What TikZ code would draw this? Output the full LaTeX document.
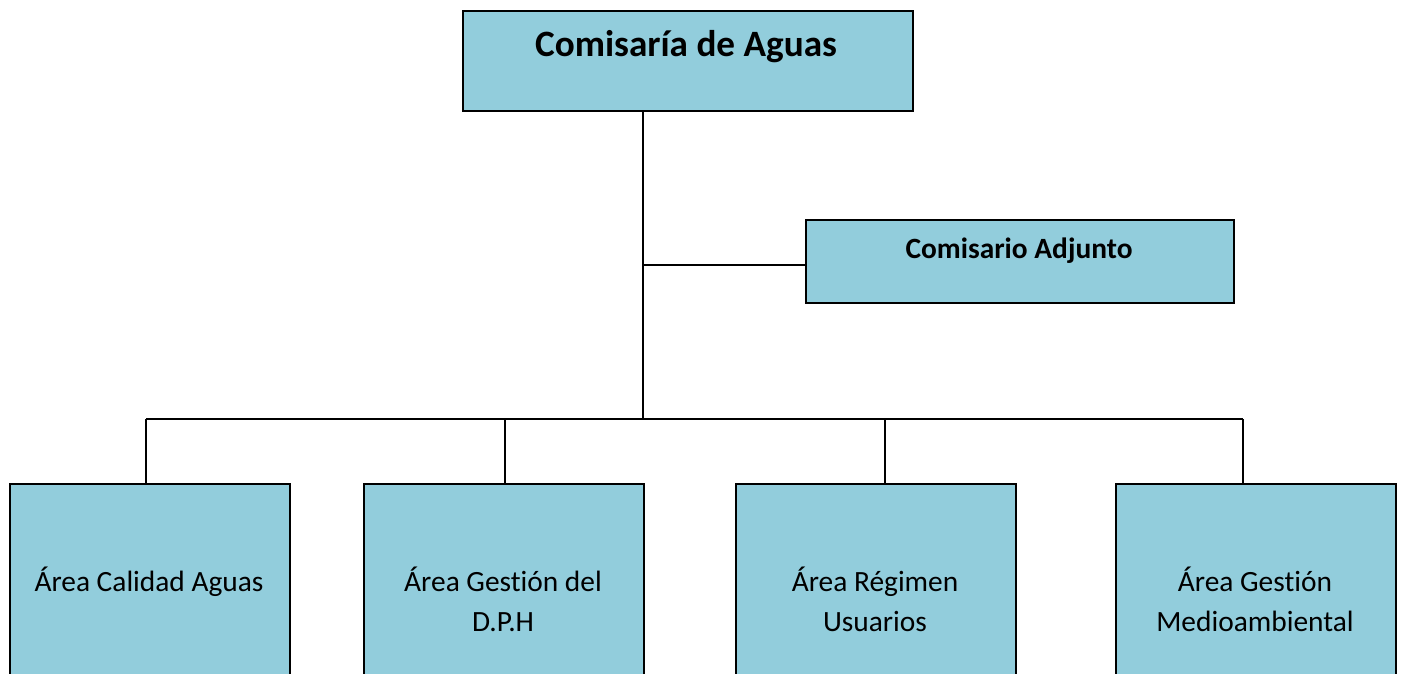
\documentclass[tikz,border=0pt]{standalone}
\usepackage{fontspec}
\setmainfont[Ligatures={NoCommon}]{Carlito}
\definecolor{boxfill}{HTML}{92CDDC}
\begin{document}
\begin{tikzpicture}[x=0.5pt,y=-0.5pt,
  orgbox/.style={draw=black,fill=boxfill,line width=1pt,inner sep=0pt,anchor=north west},
  conn/.style={draw=black,line width=0.9pt},
  titletext/.style={font=\fontsize{18.6}{22}\selectfont\bfseries,inner sep=0pt},
  subtext/.style={font=\fontsize{14.7}{20}\selectfont\bfseries,inner sep=0pt},
  areatext/.style={font=\fontsize{14.7}{20}\selectfont,align=center,inner sep=0pt}]
\useasboundingbox (0,0) rectangle (1403,674);
\clip (0,0) rectangle (1403,674);
% boxes
\node[orgbox,minimum width=450*0.5pt,minimum height=100*0.5pt] (top) at (462,10) {};
\node[orgbox,minimum width=428*0.5pt,minimum height=83*0.5pt] (adj) at (805,219) {};
\node[orgbox,minimum width=280*0.5pt,minimum height=230*0.5pt] (a1) at (9,483) {};
\node[orgbox,minimum width=280*0.5pt,minimum height=230*0.5pt] (a2) at (363,483) {};
\node[orgbox,minimum width=280*0.5pt,minimum height=230*0.5pt] (a3) at (735,483) {};
\node[orgbox,minimum width=280*0.5pt,minimum height=230*0.5pt] (a4) at (1115,483) {};
% texts
\node[titletext] (ttop) at (686,47) {Comisaría de Aguas};
\node[subtext] (tadj) at (1019,251) {Comisario Adjunto};
\node[areatext] (t1) at (149,582) {Área Calidad Aguas};
\node[areatext] (t2) at (503,599) {Área Gestión del\\D.P.H};
\node[areatext] (t3) at (875,599) {Área Régimen\\Usuarios};
\node[areatext] (t4) at (1255,599) {Área Gestión\\Medioambiental};
% connectors
\coordinate (jadj) at (643,265);
\coordinate (bus) at (643,419);
\coordinate (b1) at (146,419);
\coordinate (b2) at (505,419);
\coordinate (b3) at (885,419);
\coordinate (b4) at (1243,419);
\draw[conn] (top.south -| bus) -- (bus);
\draw[conn] (jadj) -- (jadj -| adj.west);
\draw[conn] (b1) -- (b4);
\draw[conn] (b1) -- (b1 |- a1.north);
\draw[conn] (b2) -- (b2 |- a2.north);
\draw[conn] (b3) -- (b3 |- a3.north);
\draw[conn] (b4) -- (b4 |- a4.north);
\end{tikzpicture}
\end{document}
